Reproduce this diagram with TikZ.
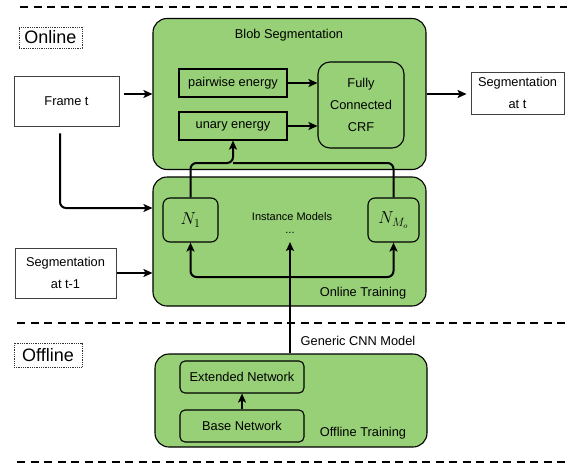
\documentclass[tikz,border=0pt]{standalone}
\usepackage[no-math]{fontspec}
\setmainfont{Liberation Sans}
\usepackage{amsmath}
\usepackage{tikz}
\usetikzlibrary{shapes.geometric, arrows, arrows.meta, positioning}
\definecolor{stagegreen}{HTML}{97D077}
\tikzstyle{stage} = [rectangle, rounded corners=14pt, minimum width=273pt, text centered, draw=black, line width=1.1pt, fill=stagegreen, inner sep=0pt]
\tikzstyle{energy} = [rectangle, minimum width=108pt, minimum height=28pt, text centered, draw=black, line width=1.1pt, fill=stagegreen, inner sep=0pt]
\tikzstyle{model} = [rectangle, rounded corners=7pt, minimum height=44pt, text centered, draw=black, line width=1.1pt, fill=stagegreen, inner sep=0pt, font=\fontsize{17}{18}\selectfont]
\tikzstyle{network} = [rectangle, rounded corners=5pt, minimum width=124pt, minimum height=32pt, text centered, draw=black, line width=1.1pt, fill=stagegreen, inner sep=0pt]
\tikzstyle{io} = [rectangle, minimum height=50pt, align=center, draw=black!75, line width=0.9pt, fill=white, inner sep=0pt]
\tikzstyle{tag} = [rectangle, draw=black!80, densely dotted, line width=0.8pt, inner sep=0pt, font=\fontsize{18}{20}\selectfont]
\tikzstyle{caption} = [inner sep=0pt]
\tikzstyle{arrow} = [line width=2pt, ->, >={Stealth[length=9pt, width=8pt, inset=2pt]}]
\tikzstyle{separator} = [line width=1.5pt, dash pattern=on 8pt off 5.5pt]

\begin{document}
\begin{tikzpicture}[x=1pt, y=-1pt, font=\fontsize{12.8}{22}\selectfont]
\useasboundingbox (0,0) rectangle (567,463);

\draw [separator] (20,7) -- (567,7);
\draw [separator] (17,323) -- (567,323);
\draw [separator] (17,462) -- (567,462);

\node (online) [tag, minimum width=63pt, minimum height=21pt] at (50.5,37.5) {Online};
\node (offline) [tag, minimum width=68pt, minimum height=24pt] at (48,355) {Offline};

% online part
\node (blob) [stage, minimum height=151pt] at (289.5,94) {};
\node (blobtitle) [caption] at (289,35) {Blob Segmentation};
\node (pairwise) [energy] at (233,83) {pairwise energy};
\node (unary) [energy] at (233,126) {unary energy};
\node (crf) [energy, rounded corners=12pt, minimum width=86pt, minimum height=86pt, align=center] at (361,105) {Fully\\Connected\\CRF};
\node (frame) [io, minimum width=105pt] at (66.5,101) {Frame t};
\node (segt) [io, minimum width=93pt, minimum height=42pt] at (517.5,93) {Segmentation\\at t};

\node (train) [stage, minimum height=129pt] at (289.5,241.5) {};
\node (n1) [model, minimum width=55pt] at (190.5,220) {$N_1$};
\node (nmo) [model, minimum width=51pt] at (393.5,220) {$N_{M_o}$};
\node (instances) [caption, font=\fontsize{11}{12}\selectfont] at (292,217) {Instance Models};
\node (dots) [caption, font=\fontsize{11}{12}\selectfont, anchor=south] at (290,234) {...};
\node (traintitle) [caption] at (363,293) {Online Training};
\node (segprev) [io, minimum width=101pt] at (65.5,273) {Segmentation\\at t-1};
\coordinate (upjoin) at (233,163);
\coordinate (downjoin) at (290,277);

% offline part
\node (offtrain) [stage, minimum width=272pt, minimum height=93pt] at (291,400.5) {};
\node (extended) [network] at (242,377) {Extended Network};
\node (base) [network] at (242,426) {Base Network};
\node (offtitle) [caption] at (363,433) {Offline Training};
\node (cnn) [caption] at (358,341) {Generic CNN Model};

\draw [arrow] ([xshift=5pt]frame.east |- blob.west) -- (blob.west);
\draw [arrow] (blob.east) -- ([xshift=-4pt]segt.west |- blob.east);
\draw [arrow] (pairwise.east) -- (pairwise.east -| crf.west);
\draw [arrow] (unary.east) -- (unary.east -| crf.west);
\draw [arrow, rounded corners=6pt] ([xshift=-6.5pt,yshift=-7pt]frame.south) |- ([yshift=33.5pt]train.west);
\draw [arrow] ([xshift=1pt]segprev.east) -- (segprev.east -| train.west);
\draw [arrow, rounded corners=6pt] (n1.north) |- (upjoin) -- (unary.south);
\draw [line width=2pt, rounded corners=6pt] (nmo.north) |- (upjoin);
\draw [arrow] (offtrain.north -| downjoin) -- ([yshift=-8pt]dots.south);
\draw [arrow, rounded corners=6pt] (downjoin) -| (n1.south);
\draw [arrow, rounded corners=6pt] (downjoin) -| (nmo.south);
\draw [arrow, line width=1.6pt] (base.north) -- (extended.south);

\end{tikzpicture}
\end{document}
